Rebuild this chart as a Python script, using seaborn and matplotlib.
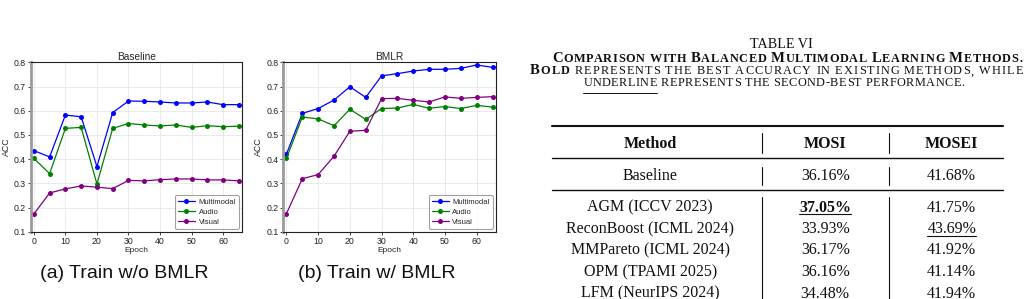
import numpy as np
import pandas as pd
import matplotlib
matplotlib.use("Agg")
import matplotlib.pyplot as plt
import seaborn as sns
from matplotlib.lines import Line2D

# ---------------- data ----------------
epochs = [0, 5, 10, 15, 20, 25, 30, 35, 40, 45, 50, 55, 60, 65]

base_multimodal = [0.435, 0.409, 0.582, 0.575, 0.369, 0.592, 0.640, 0.639, 0.636, 0.632, 0.632, 0.636, 0.625, 0.625]
base_audio = [0.403, 0.340, 0.527, 0.531, 0.297, 0.527, 0.547, 0.541, 0.537, 0.541, 0.531, 0.538, 0.534, 0.536]
base_visual = [0.173, 0.260, 0.277, 0.289, 0.284, 0.278, 0.312, 0.310, 0.315, 0.318, 0.318, 0.314, 0.314, 0.310]

bmlr_multimodal = [0.421, 0.589, 0.609, 0.644, 0.699, 0.655, 0.744, 0.753, 0.764, 0.771, 0.771, 0.775, 0.789, 0.779]
bmlr_audio = [0.403, 0.574, 0.566, 0.538, 0.606, 0.564, 0.609, 0.611, 0.626, 0.610, 0.617, 0.609, 0.622, 0.615]
bmlr_visual = [0.175, 0.319, 0.336, 0.412, 0.515, 0.519, 0.650, 0.651, 0.643, 0.636, 0.657, 0.651, 0.655, 0.658]

series_names = ["Multimodal", "Audio", "Visual"]
series_colors = ["blue", "green", "purple"]
panel_titles = ["Baseline", "BMLR"]
panel_captions = ["(a) Train w/o BMLR", "(b) Train w/ BMLR"]
x_ticks = [0, 10, 20, 30, 40, 50, 60]
y_ticks = [0.1, 0.2, 0.3, 0.4, 0.5, 0.6, 0.7, 0.8]

table_title = "TABLE VI"
caption_line2 = "Comparison with Balanced Multimodal Learning Methods."
caption_bold_word = "Bold"
caption_line3 = "represents the best accuracy in existing methods, while"
caption_underline_word = "underline"
caption_line4 = "represents the second-best performance."
table_methods = ["Baseline", "AGM (ICCV 2023)", "ReconBoost (ICML 2024)", "MMPareto (ICML 2024)",
                 "OPM (TPAMI 2025)", "LFM (NeurIPS 2024)"]
table_mosi = ["36.16%", "37.05%", "33.93%", "36.17%", "36.16%", "34.48%"]
table_mosei = ["41.68%", "41.75%", "43.69%", "41.92%", "41.14%", "41.94%"]
table_headers = ["Method", "MOSI", "MOSEI"]

# ---------------- style ----------------
sns.set_theme(style="whitegrid")
plt.rcParams['font.family'] = ['Liberation Sans', 'DejaVu Sans']

W, H = 1030, 299
fig = plt.figure(figsize=(W / 100, H / 100), dpi=100)
fig.patch.set_facecolor("white")


def fx(px):
    return px / W


def fy(py):
    return 1 - py / H


axes_boxes = [(30.7, 62.3, 242.0, 231.7), (283.3, 62.3, 495.7, 231.7)]
data_sets = [
    [base_multimodal, base_audio, base_visual],
    [bmlr_multimodal, bmlr_audio, bmlr_visual],
]
caption_x = [124, 376.5]

for i, (x0, y0, x1, y1) in enumerate(axes_boxes):
    ax = fig.add_axes([fx(x0), fy(y1), (x1 - x0) / W, (y1 - y0) / H])
    for name, vals, color in zip(series_names, data_sets[i], series_colors):
        sns.lineplot(x=epochs, y=vals, ax=ax, color=color, marker="o", markersize=3.6,
                     markeredgewidth=0, linewidth=0.9, label=name)
    ax.set_xlim(-1, 66)
    ax.set_ylim(0.1, 0.8)
    ax.set_xticks(x_ticks)
    ax.set_yticks(y_ticks)
    ax.set_yticklabels([f"{v:.1f}" for v in y_ticks])
    ax.tick_params(axis="both", labelsize=6.3, pad=1.5, length=2, width=0.6,
                   bottom=True, left=True, colors="#222222")
    ax.grid(True, color="#e6e6e6", linewidth=0.6)
    for s in ["top", "right", "bottom"]:
        ax.spines[s].set_color("#222222")
        ax.spines[s].set_linewidth(0.8)
    ax.spines["left"].set_color("#9a9a9a")
    ax.spines["left"].set_linewidth(2.0)
    ax.set_title(panel_titles[i], fontsize=7.3, pad=2.0)
    ax.set_xlabel("Epoch", fontsize=6.0, labelpad=1.0)
    ax.set_ylabel("ACC", fontsize=6.3, labelpad=2)
    leg = ax.legend(loc="lower right", fontsize=5.5, frameon=True, handlelength=2.2,
                    borderpad=0.4, labelspacing=0.35, handletextpad=0.5, borderaxespad=0.4,
                    fancybox=True)
    leg.get_frame().set_edgecolor("#888888")
    leg.get_frame().set_linewidth(0.8)
    fig.text(fx(caption_x[i]), fy(274), panel_captions[i], fontsize=14,
             ha="center", va="center", color="#111111")

# ---------------- table ----------------
renderer = fig.canvas.get_renderer()
SERIF = ["Liberation Serif", "DejaVu Serif"]
INK = "#111111"


def sc_runs(phrase, big, small, weight, underline=False):
    runs = []
    words = phrase.split(" ")
    for wi, w in enumerate(words):
        if wi > 0:
            runs.append((None, small, weight, underline))
        cur = ""
        cur_big = None
        for ch in w:
            isbig = ch.isupper() or ch.isdigit()
            if cur and isbig != cur_big:
                runs.append((cur.upper(), big if cur_big else small, weight, underline))
                cur = ""
            cur += ch
            cur_big = isbig
        if cur:
            runs.append((cur.upper(), big if cur_big else small, weight, underline))
    return runs


_wcache = {}


def text_width(s, size, weight):
    key = (s, size, weight)
    if key not in _wcache:
        t = fig.text(0, 0, s, fontsize=size, family=SERIF, weight=weight)
        _wcache[key] = t.get_window_extent(renderer).width
        t.remove()
    return _wcache[key]


def space_width(size, weight):
    return text_width("x x", size, weight) - text_width("xx", size, weight)


def draw_runs(runs, cx, baseline, target):
    natural = 0
    slots = 0
    for s, size, weight, ul in runs:
        if s is None:
            natural += space_width(size, weight)
            slots += 1
        else:
            natural += text_width(s, size, weight)
            slots += len(s)
    track = (target - natural) / max(slots - 1, 1)
    x = cx - target / 2
    ul_start = None
    ul_end = None
    for s, size, weight, ul in runs:
        start = x
        if s is None:
            x += space_width(size, weight) + track
        else:
            for k, ch in enumerate(s):
                off = text_width(s[:k], size, weight) if k > 0 else 0
                fig.text(fx(start + off + k * track), fy(baseline), ch, fontsize=size,
                         family=SERIF, weight=weight, ha="left", va="baseline", color=INK)
            x += text_width(s, size, weight) + len(s) * track
        if ul:
            if ul_start is None:
                ul_start = start
            ul_end = x - track
        elif ul_start is not None:
            fig.add_artist(Line2D([fx(ul_start), fx(ul_end)], [fy(baseline + 6)] * 2,
                                  color=INK, lw=0.7))
            ul_start = None
    if ul_start is not None:
        fig.add_artist(Line2D([fx(ul_start), fx(ul_end)], [fy(baseline + 6)] * 2,
                              color=INK, lw=0.7))


BIG, SMALL = 10.6, 8.8
fig.text(fx(781.7), fy(48.3), table_title, fontsize=10.2, family=SERIF, ha="center",
         va="baseline", color=INK)
draw_runs(sc_runs(caption_line2, BIG, SMALL, "bold"), 787, 62.0, 470)
line3 = sc_runs(caption_bold_word, BIG, SMALL, "bold") + [(None, SMALL, "normal", False)] + \
    sc_runs(caption_line3, BIG, SMALL, "normal")
draw_runs(line3, 776.5, 74.5, 493)
line4 = sc_runs(caption_underline_word, BIG, SMALL, "normal", underline=True) + \
    [(None, SMALL, "normal", False)] + sc_runs(caption_line4, BIG, SMALL, "normal")
draw_runs(line4, 773.8, 86.5, 381)

# rules
RX0, RX1 = 552, 1003
fig.add_artist(Line2D([fx(RX0), fx(RX1)], [fy(125.7)] * 2, color=INK, lw=1.5))
fig.add_artist(Line2D([fx(RX0), fx(RX1)], [fy(158.3)] * 2, color=INK, lw=1.0))
fig.add_artist(Line2D([fx(RX0), fx(RX1)], [fy(190)] * 2, color=INK, lw=1.0))
for vx in [761.7, 889]:
    for (a, b) in [(133, 153), (167, 185), (197, 300)]:
        fig.add_artist(Line2D([fx(vx)] * 2, [fy(a), fy(b)], color=INK, lw=0.8))

col_x = [650.3, 825.2, 951.7]
BODY = 11.5
for cx, h in zip(col_x, table_headers):
    fig.text(fx(cx), fy(148), h, fontsize=BODY, family=SERIF, weight="bold",
             ha="center", va="baseline", color=INK)

row_base = [180, 211.5, 233, 254.5, 276, 297.5]
best_mosi = 1
second_mosei = 2
for r, (m, a, b) in enumerate(zip(table_methods, table_mosi, table_mosei)):
    yb = row_base[r]
    fig.text(fx(col_x[0]), fy(yb), m, fontsize=BODY, family=SERIF, ha="center",
             va="baseline", color=INK)
    ta = fig.text(fx(col_x[1]), fy(yb), a, fontsize=BODY, family=SERIF, ha="center",
                  va="baseline", color=INK, weight="bold" if r == best_mosi else "normal")
    tb = fig.text(fx(col_x[2]), fy(yb), b, fontsize=BODY, family=SERIF, ha="center",
                  va="baseline", color=INK)
    for t, flag in [(ta, r == best_mosi), (tb, r == second_mosei)]:
        if flag:
            bb = t.get_window_extent(renderer)
            fig.add_artist(Line2D([bb.x0 / W, bb.x1 / W], [fy(yb + 2.8)] * 2,
                                  color=INK, lw=0.8))

fig.savefig("out.png", dpi=100, facecolor="white")
